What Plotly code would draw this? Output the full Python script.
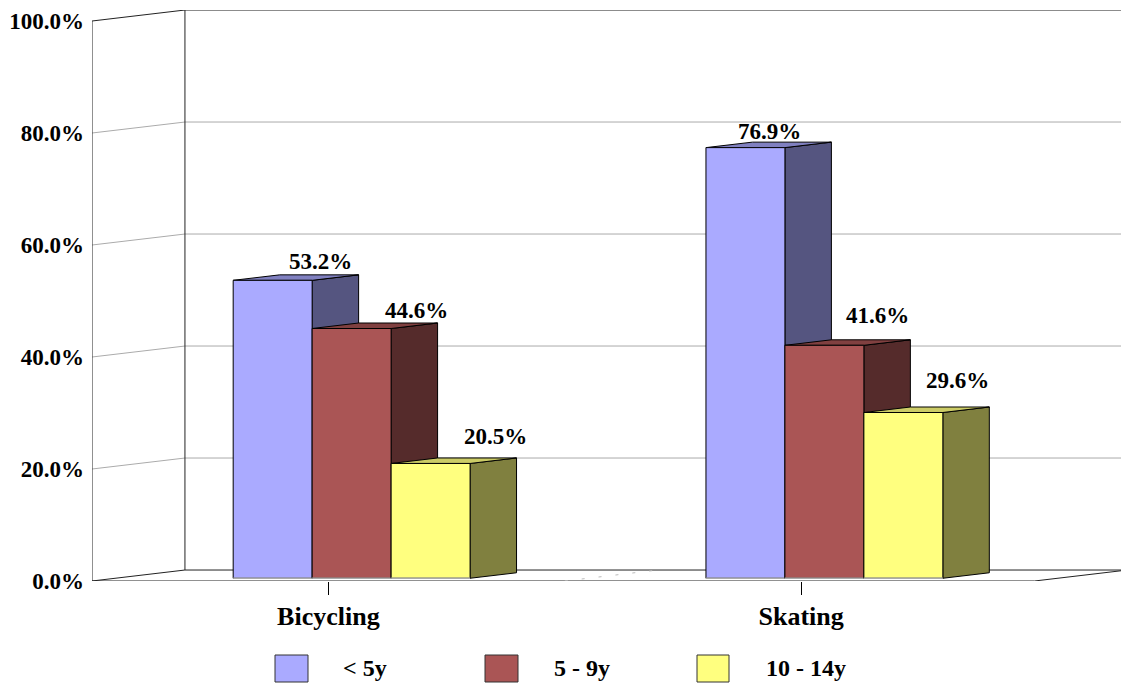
import plotly.graph_objects as go

# Chart data
categories = ["Bicycling", "Skating"]
age_groups = ["< 5y", "5 - 9y", "10 - 14y"]
under_5 = [53.2, 76.9]
age_5_9 = [44.6, 41.6]
age_10_14 = [20.5, 29.6]
y_ticks = [0, 20, 40, 60, 80, 100]

series = [under_5, age_5_9, age_10_14]
front_colors = ["#AAAAFF", "#AA5555", "#FFFF7F"]
side_colors = ["#555580", "#552B2B", "#80803F"]
top_colors = ["#8080C0", "#804040", "#CCCC66"]

# Oblique projection of the chart's depth axis, in axis units
DEPTH_X = 0.1966
DEPTH_Y = 1.96
BAR_WIDTH = 79 / 473
DEPTH_NEAR = 0.25
DEPTH_FAR = 0.75
X_MIN, X_FLOOR_END, X_MAX = -0.5, 1.4935, 1.6765

FONT = "Liberation Serif"
TEXT = dict(family=FONT, size=23, color="black", weight=700)
WIDE_TEXT = dict(family=FONT, size=26, color="black", weight=700)
LEGEND_TEXT = dict(family=FONT, size=24, color="black", weight=700)

# Pixel nudges that place each value label above its bar: (dx, dy) per series, per category
label_shift = [[(48, 4), (24, 2)], [(65, 4), (53, 15)], [(65, 12), (54, 18)]]


def project(x, y, depth):
    return x + depth * DEPTH_X, y + depth * DEPTH_Y


def polygon(points, fill, line="black"):
    xs = [p[0] for p in points] + [points[0][0]]
    ys = [p[1] for p in points] + [points[0][1]]
    return go.Scatter(x=xs, y=ys, mode="lines", fill="toself", fillcolor=fill,
                      line=dict(color=line, width=1), hoverinfo="skip",
                      showlegend=False, cliponaxis=False)


def polyline(xs, ys, color, width=1, dash=None):
    return go.Scatter(x=xs, y=ys, mode="lines",
                      line=dict(color=color, width=width, dash=dash),
                      hoverinfo="skip", showlegend=False, cliponaxis=False)


fig = go.Figure()

# Grid lines wrapping the side wall and the back wall
for tick in y_ticks[1:-1]:
    bx, by = project(X_MIN, tick, 1)
    fig.add_trace(polyline([X_MIN, bx, X_MAX], [tick, by, by], "#ABABAB"))

# Walls, floor and axis frame
top_x, top_y = project(X_MIN, 100, 1)
floor_x, floor_y = project(X_MIN, 0, 1)
fig.add_trace(polyline([X_MIN, X_MIN, top_x, X_MAX], [0, 100, top_y, top_y], "#222222"))
fig.add_trace(polyline([top_x, floor_x, X_MAX], [top_y, floor_y, floor_y], "#222222"))
fig.add_trace(polyline([floor_x, X_MIN, X_FLOOR_END, X_MAX],
                       [floor_y, 0, 0, DEPTH_Y * (X_MAX - X_FLOOR_END) / DEPTH_X],
                       "#222222"))

# Faint divider on the floor between the two categories
fig.add_trace(polyline([0.5, 0.5 + DEPTH_X], [0, DEPTH_Y], "#BBBBBB", dash="3px,14px"))

annotations = []
for c, _ in enumerate(categories):
    for s, values in enumerate(series):
        value = values[c]
        left = c - 1.5 * BAR_WIDTH + s * BAR_WIDTH
        right = left + BAR_WIDTH
        near = [project(left, 0, DEPTH_NEAR), project(right, 0, DEPTH_NEAR),
                project(right, value, DEPTH_NEAR), project(left, value, DEPTH_NEAR)]
        far_right_low = project(right, 0, DEPTH_FAR)
        far_right_top = project(right, value, DEPTH_FAR)
        far_left_top = project(left, value, DEPTH_FAR)

        fig.add_trace(polygon([near[1], far_right_low, far_right_top, near[2]], side_colors[s]))
        fig.add_trace(polygon([near[3], near[2], far_right_top, far_left_top], top_colors[s]))
        fig.add_trace(polygon(near, front_colors[s]))
        fig.add_trace(polyline([near[0][0], near[1][0]], [near[0][1], near[1][1]], "#AAAAAA", 1.5))

        dx, dy = label_shift[s][c]
        annotations.append(dict(
            x=(near[0][0] + near[1][0]) / 2, y=near[2][1], xref="x", yref="y",
            text=f"{value:.1f}%", showarrow=False, font=TEXT,
            xanchor="center", yanchor="bottom", xshift=dx, yshift=dy,
        ))

# Plot area in pixels, used for placing the legend below the axes
WIDTH, HEIGHT = 1121, 683
LEFT, TOP, BOTTOM = 92, 10, 581


def paper_x(px):
    return (px - LEFT) / (WIDTH - LEFT)


def paper_y(py):
    return (BOTTOM - py) / (BOTTOM - TOP)


swatches = [(275, 308), (485, 518), (697, 729)]
legend_text_x = [365, 582, 806]
shapes = []
for (x0, x1), color, name, tx in zip(swatches, front_colors, age_groups, legend_text_x):
    shapes.append(dict(type="rect", xref="paper", yref="paper",
                       x0=paper_x(x0), x1=paper_x(x1), y0=paper_y(682), y1=paper_y(655),
                       fillcolor=color, line=dict(color="#333333", width=1)))
    annotations.append(dict(x=paper_x(tx), y=paper_y(668), xref="paper", yref="paper",
                            text=name, showarrow=False, font=LEGEND_TEXT, borderpad=0,
                            xanchor="center", yanchor="middle"))

fig.update_layout(
    width=WIDTH, height=HEIGHT,
    margin=dict(l=LEFT, r=0, t=TOP, b=HEIGHT - BOTTOM, pad=0),
    paper_bgcolor="white", plot_bgcolor="white",
    showlegend=False, shapes=shapes, annotations=annotations,
    xaxis=dict(range=[X_MIN, X_MAX], tickmode="array", tickvals=list(range(len(categories))),
               ticktext=categories, ticks="outside", ticklen=13, tickcolor="black", tickwidth=1,
               ticklabelstandoff=-1, tickfont=WIDE_TEXT, showgrid=False, zeroline=False, showline=False),
    yaxis=dict(range=[0, (BOTTOM - TOP) / 5.6], tickmode="array", tickvals=y_ticks,
               ticktext=[f"{t:.1f}%" for t in y_ticks], ticks="", ticklabelstandoff=7,
               tickfont=TEXT, showgrid=False, zeroline=False, showline=False),
)

fig.write_html("out.html")
